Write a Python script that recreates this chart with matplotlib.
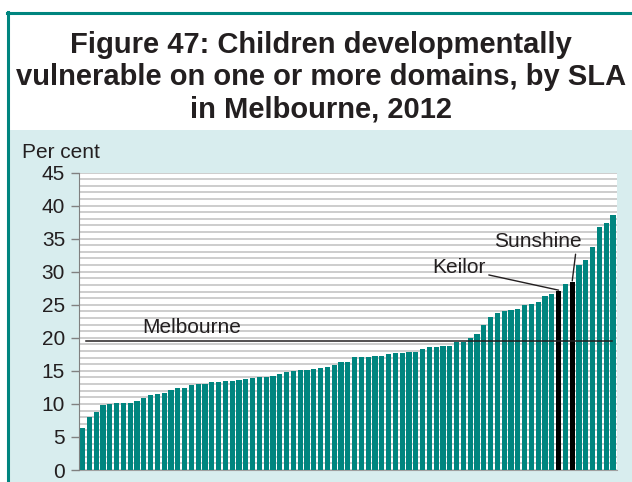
import matplotlib
matplotlib.use("Agg")
import matplotlib.pyplot as plt
from matplotlib.patches import Rectangle
from matplotlib.lines import Line2D
import numpy as np

plt.rcParams['font.family'] = ['Liberation Sans', 'DejaVu Sans']

values = [6.3, 8.0, 8.7, 9.9, 10.0, 10.1, 10.1, 10.1, 10.5, 10.9,
          11.3, 11.5, 11.7, 12.1, 12.4, 12.4, 12.8, 13.0, 13.0, 13.3,
          13.3, 13.5, 13.5, 13.6, 13.8, 13.9, 14.0, 14.1, 14.2, 14.5,
          14.8, 14.9, 15.1, 15.1, 15.3, 15.4, 15.6, 15.9, 16.4, 16.4,
          17.1, 17.1, 17.1, 17.2, 17.3, 17.5, 17.7, 17.7, 17.8, 17.9,
          18.3, 18.6, 18.6, 18.7, 18.8, 19.3, 19.4, 20.0, 20.5,
          21.9, 23.2, 23.7, 24.1, 24.2, 24.4, 24.9, 25.1, 25.4, 26.3,
          26.6, 27.1, 28.2, 28.5, 31.0, 31.8, 33.7, 36.7, 37.3, 38.5]
highlight = {"Keilor": 71, "Sunshine": 73}
melbourne = 19.5
yticks = [0, 5, 10, 15, 20, 25, 30, 35, 40, 45]
title = "Figure 47: Children developmentally\nvulnerable on one or more domains, by SLA\nin Melbourne, 2012"

W, H = 632, 482
fig = plt.figure(figsize=(W / 100, H / 100), dpi=100)
fig.patch.set_facecolor("white")

teal = "#00857f"
lightblue = "#d8edee"
dark = "#231f20"

# background panels
fig.patches.append(Rectangle((8 / W, 0), 1 - 8 / W, 1 - 130 / H, transform=fig.transFigure,
                             facecolor=lightblue, edgecolor="none", zorder=-5))
fig.lines.append(Line2D([8 / W, 8 / W], [0, 1 - 12.3 / H], transform=fig.transFigure,
                        color=teal, lw=2.2, zorder=-4))
fig.lines.append(Line2D([7.3 / W, 1], [1 - 13.3 / H, 1 - 13.3 / H], transform=fig.transFigure,
                        color=teal, lw=2.2, zorder=-4))

fig.text(321 / W, 1 - 77 / H, title, ha="center", va="center", fontsize=21,
         fontweight="bold", color=dark, linespacing=1.2)

ax = fig.add_axes([79 / W, 1 - 470 / H, 538 / W, 297.5 / H])
ax.set_facecolor("white")

x = np.arange(len(values))
colors = [teal] * len(values)
for name, idx in highlight.items():
    colors[idx - 1] = "black"
ax.bar(x, values, width=0.76, color=colors, zorder=3)

ax.set_xlim(-0.52, len(values) - 1 + 0.58)
ax.set_ylim(0, 45)
ax.set_yticks(yticks)
ax.set_yticks(np.arange(0, 46, 1), minor=True)
ax.tick_params(axis="y", which="major", labelsize=15, length=6, width=1, color="#808080",
               pad=4, labelcolor=dark)
ax.tick_params(axis="y", which="minor", length=0)
ax.set_xticks([])
ax.grid(axis="y", which="both", color="#c0c0c0", lw=1.1, zorder=0)
ax.set_axisbelow(True)
for s in ["top", "right"]:
    ax.spines[s].set_visible(False)
ax.spines["left"].set_color("#808080")
ax.spines["bottom"].set_color("#a0a0a0")
ax.spines["left"].set_zorder(4)

# Melbourne average line
ax.axhline(melbourne, xmin=7 / 538, xmax=533 / 538, color=dark, lw=1.1, zorder=4)
ax.text(16.0, melbourne + 0.6, "Melbourne", ha="center", va="bottom", fontsize=15, color=dark)

# annotations
ki = highlight["Keilor"] - 1
si = highlight["Sunshine"] - 1
ax.annotate("Keilor", xy=(ki, values[ki] + 0.1), xytext=(55.4, 30.6), ha="center", va="center",
            fontsize=15, color=dark,
            arrowprops=dict(arrowstyle="-", color=dark, lw=1.0, shrinkA=0, shrinkB=0,
                            relpos=(1.0, 0.15)))
ax.annotate("Sunshine", xy=(si, values[si] + 0.1), xytext=(67.0, 34.5), ha="center", va="center",
            fontsize=15, color=dark,
            arrowprops=dict(arrowstyle="-", color=dark, lw=1.0, shrinkA=0, shrinkB=0,
                            relpos=(0.93, 0.0)))

fig.text(22 / W, 1 - 152 / H, "Per cent", ha="left", va="center", fontsize=15, color=dark)

fig.savefig("out.png", dpi=100, facecolor=fig.get_facecolor())
